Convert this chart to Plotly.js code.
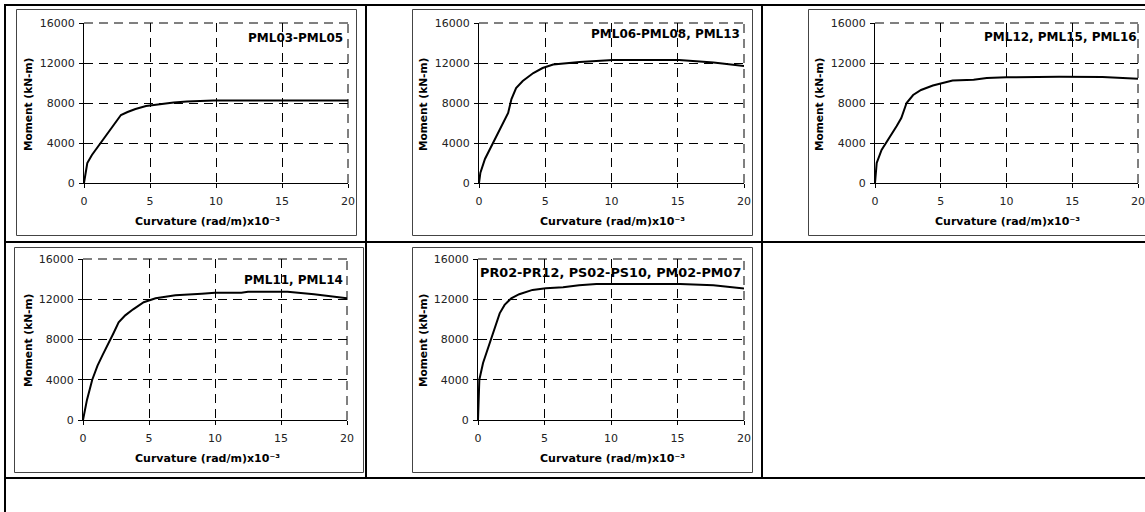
<!DOCTYPE html>
<html><head><meta charset="utf-8">
<script src="https://cdn.plot.ly/plotly-3.0.1.min.js"></script>
<style>html,body{margin:0;padding:0;background:#fff;overflow:hidden}#chart{width:1145px;height:512px}</style>
</head><body><div id="chart"></div>
<script>
// ---- data ----
const xTicks = [0, 5, 10, 15, 20];
const yTicks = [0, 4000, 8000, 12000, 16000];
const chartLabels = ["PML03-PML05", "PML06-PML08, PML13", "PML12, PML15, PML16", "PML11, PML14", "PR02-PR12, PS02-PS10, PM02-PM07"];
const xTitle = "Curvature (rad/m)x10\u207B\u00B3";
const yTitle = "Moment (kN-m)";

const pml03Curv = [0, 0.1, 0.25, 0.6, 1.2, 1.8, 2.3, 2.8, 3.3, 3.9, 4.7, 5.7, 6.8, 7.8, 9.8, 12, 15, 20];
const pml03Mom  = [0, 900, 2000, 2800, 3900, 5000, 6000, 6800, 7100, 7400, 7700, 7900, 8050, 8150, 8250, 8250, 8250, 8250];

const pml06Curv = [0, 0.1, 0.45, 1.05, 1.8, 2.2, 2.45, 2.8, 3.3, 4.1, 4.8, 5.6, 7.6, 10.1, 15.1, 17.7, 20];
const pml06Mom  = [0, 1000, 2400, 4000, 6000, 7000, 8400, 9500, 10200, 11000, 11500, 11850, 12100, 12300, 12300, 12050, 11700];

const pml12Curv = [0, 0.08, 0.13, 0.5, 1.0, 1.65, 2.0, 2.4, 2.9, 3.5, 4.4, 5.2, 5.9, 7.5, 8.5, 10, 14, 17.3, 20];
const pml12Mom  = [0, 1000, 2000, 3300, 4300, 5700, 6500, 8000, 8800, 9300, 9750, 10000, 10250, 10330, 10500, 10570, 10630, 10600, 10430];

const pml11Curv = [0, 0.1, 0.3, 0.7, 1.1, 1.5, 1.9, 2.3, 2.7, 3.2, 3.8, 4.6, 5.5, 7, 9, 10, 12, 12.5, 15.5, 17.5, 20];
const pml11Mom  = [0, 800, 2000, 4000, 5400, 6500, 7500, 8600, 9700, 10400, 11000, 11700, 12100, 12400, 12550, 12650, 12650, 12750, 12750, 12500, 12100];

const pr02Curv = [0, 0.05, 0.1, 0.38, 0.63, 0.95, 1.25, 1.63, 2.0, 2.5, 3.1, 4.1, 5.1, 6.4, 7.6, 8.9, 15.2, 17.7, 20];
const pr02Mom  = [0, 2000, 4000, 5660, 6640, 7960, 9100, 10600, 11440, 12100, 12500, 12930, 13100, 13200, 13400, 13520, 13520, 13400, 13060];

const seriesX = [pml03Curv, pml06Curv, pml12Curv, pml11Curv, pr02Curv];
const seriesY = [pml03Mom, pml06Mom, pml12Mom, pml11Mom, pr02Mom];

// ---- layout geometry (pixels) ----
const W = 1145, H = 512;
const px = v => v / W;
const py = v => 1 - v / H;

const plotBoxes = [
  {l: 84,  r: 348,  t: 23,  b: 183},
  {l: 479, r: 744,  t: 23,  b: 183},
  {l: 875, r: 1138, t: 23,  b: 183},
  {l: 83,  r: 347,  t: 259, b: 420},
  {l: 478, r: 744,  t: 259, b: 420}
];
const frames = [
  {l: 16.5,  r: 356.5,  t: 9.5,   b: 235.5},
  {l: 412.5, r: 752.5,  t: 9.5,   b: 235.5},
  {l: 808.5, r: 1170,   t: 9.5,   b: 235.5},
  {l: 14.5,  r: 363.5,  t: 247.5, b: 472.5},
  {l: 412.5, r: 752.5,  t: 247.5, b: 472.5}
];
const labelPos = [
  {x: 345, y: 38, s: 12},
  {x: 742, y: 34, s: 12},
  {x: 1139, y: 37, s: 12},
  {x: 345, y: 280, s: 12},
  {x: 743, y: 272, s: 12.8}
];
const yTitlePos = [{x: 28, y: 105}, {x: 423, y: 105}, {x: 819, y: 105}, {x: 28, y: 341}, {x: 423, y: 341}];
const xTitlePos = [{x: 207, y: 221}, {x: 612, y: 221}, {x: 1007, y: 221}, {x: 207, y: 458}, {x: 612, y: 458}];

const GRID_DASH = "9px,6px";
const tickFont = {family: "DejaVu Sans, Liberation Sans, sans-serif", size: 11, color: "#222"};
const boldFont = "DejaVu Sans, Liberation Sans, sans-serif";

const data = [];
const layout = {
  width: W, height: H,
  margin: {l: 0, r: 0, t: 0, b: 0, pad: 0},
  paper_bgcolor: "#fff", plot_bgcolor: "rgba(0,0,0,0)",
  showlegend: false,
  font: {family: "DejaVu Sans, sans-serif", color: "#000"},
  shapes: [], annotations: []
};

for (let i = 0; i < 5; i++) {
  const n = i === 0 ? "" : String(i + 1);
  const b = plotBoxes[i];
  data.push({
    type: "scatter", mode: "lines",
    x: seriesX[i], y: seriesY[i],
    xaxis: "x" + n, yaxis: "y" + n,
    line: {color: "#000", width: 2},
    hoverinfo: "skip"
  });
  layout["xaxis" + n] = {
    domain: [px(b.l), px(b.r)], anchor: "y" + n,
    range: [0, 20], tickvals: xTicks, ticktext: xTicks.map(String),
    showgrid: true, gridcolor: "#000", gridwidth: 1, griddash: GRID_DASH,
    showline: true, linecolor: "#000", linewidth: 1,
    ticks: "outside", ticklen: 4, tickcolor: "#000", tickwidth: 1,
    ticklabelstandoff: 4,
    tickfont: tickFont, zeroline: false, fixedrange: true
  };
  layout["yaxis" + n] = {
    domain: [py(b.b), py(b.t)], anchor: "x" + n,
    range: [0, 16000], tickvals: yTicks, ticktext: yTicks.map(String),
    showgrid: true, gridcolor: "#000", gridwidth: 1, griddash: GRID_DASH,
    showline: true, linecolor: "#000", linewidth: 1,
    ticks: "outside", ticklen: 4, tickcolor: "#000", tickwidth: 1,
    ticklabelstandoff: 2,
    tickfont: tickFont, zeroline: false, fixedrange: true
  };
  // dashed top and right borders of the plot area
  layout.shapes.push({type: "line", xref: "x" + n + " domain", yref: "y" + n + " domain",
    x0: 0, x1: 1, y0: 1, y1: 1, line: {color: "#000", width: 1, dash: GRID_DASH}});
  layout.shapes.push({type: "line", xref: "x" + n + " domain", yref: "y" + n + " domain",
    x0: 1, x1: 1, y0: 0, y1: 1, line: {color: "#000", width: 1, dash: GRID_DASH}});
  // chart frame
  const f = frames[i];
  layout.shapes.push({type: "rect", xref: "paper", yref: "paper",
    x0: px(f.l), x1: px(f.r), y0: py(f.b), y1: py(f.t),
    line: {color: "#444", width: 1}, fillcolor: "rgba(0,0,0,0)", layer: "below"});
  // labels
  const lp = labelPos[i];
  layout.annotations.push({xref: "paper", yref: "paper", x: px(lp.x), y: py(lp.y),
    xanchor: "right", yanchor: "middle", showarrow: false, text: chartLabels[i],
    font: {family: boldFont, size: lp.s, color: "#000", weight: "bold"}});
  const yt = yTitlePos[i];
  layout.annotations.push({xref: "paper", yref: "paper", x: px(yt.x), y: py(yt.y),
    xanchor: "center", yanchor: "middle", showarrow: false, textangle: -90,
    text: yTitle, font: {family: boldFont, size: 10.6, color: "#000", weight: "bold"}});
  const xt = xTitlePos[i];
  layout.annotations.push({xref: "paper", yref: "paper", x: px(xt.x), y: py(xt.y),
    xanchor: "center", yanchor: "middle", showarrow: false,
    text: xTitle, font: {family: boldFont, size: 11, color: "#000", weight: "bold"}});
}

// table borders
const tableLines = [
  {x0: 5, x1: 1145, y0: 5, y1: 5},
  {x0: 5, x1: 5, y0: 4, y1: 512},
  {x0: 366, x1: 366, y0: 5, y1: 478},
  {x0: 762, x1: 762, y0: 5, y1: 478},
  {x0: 5, x1: 1145, y0: 242, y1: 242},
  {x0: 5, x1: 1145, y0: 478, y1: 478}
];
tableLines.forEach(t => layout.shapes.push({type: "line", xref: "paper", yref: "paper",
  x0: px(t.x0), x1: px(t.x1), y0: py(t.y0), y1: py(t.y1), line: {color: "#000", width: 2}}));

Plotly.newPlot("chart", data, layout, {displayModeBar: false, staticPlot: true});
</script>
</body></html>
